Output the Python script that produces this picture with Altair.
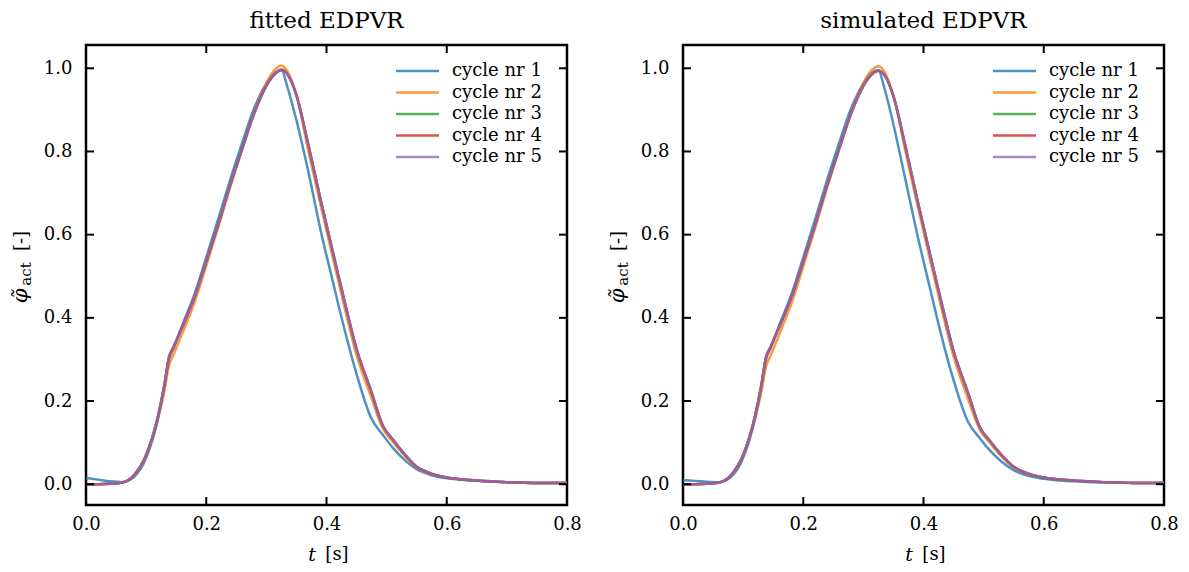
import altair as alt
import pandas as pd

# ---------------- data ----------------
cycles = ["cycle nr 1", "cycle nr 2", "cycle nr 3", "cycle nr 4", "cycle nr 5"]
colors = ["#1f77b4", "#ff7f0e", "#2ca02c", "#d62728", "#9467bd"]
panel_titles = ["fitted EDPVR", "simulated EDPVR"]

t_grid = [0.00, 0.02, 0.04, 0.06, 0.08, 0.10, 0.12, 0.13, 0.138, 0.146, 0.16, 0.18, 0.20, 0.22,
          0.24, 0.26, 0.28, 0.30, 0.315, 0.325, 0.335, 0.35, 0.37, 0.39, 0.41, 0.43,
          0.45, 0.474, 0.494, 0.51, 0.53, 0.55, 0.57, 0.60, 0.65, 0.70, 0.75, 0.80]

# fitted EDPVR
fit_c1 = [0.015, 0.011, 0.007, 0.005, 0.018, 0.063, 0.158, 0.228, 0.300, 0.328, 0.382, 0.455, 0.545, 0.638,
          0.733, 0.822, 0.905, 0.963, 0.990, 0.995, 0.955, 0.875, 0.750, 0.612, 0.490, 0.372,
          0.265, 0.160, 0.118, 0.088, 0.058, 0.036, 0.024, 0.014, 0.008, 0.004, 0.003, 0.003]
fit_c2 = [0.000, 0.000, 0.001, 0.004, 0.021, 0.068, 0.160, 0.222, 0.285, 0.313, 0.362, 0.435, 0.525, 0.618,
          0.715, 0.806, 0.895, 0.965, 0.998, 1.007, 0.993, 0.935, 0.800, 0.672, 0.548, 0.425,
          0.310, 0.210, 0.133, 0.102, 0.068, 0.040, 0.027, 0.016, 0.009, 0.005, 0.003, 0.003]
fit_c3 = [0.000, 0.000, 0.001, 0.004, 0.022, 0.070, 0.165, 0.236, 0.305, 0.331, 0.378, 0.448, 0.535, 0.625,
          0.720, 0.808, 0.893, 0.958, 0.988, 0.997, 0.986, 0.936, 0.815, 0.685, 0.562, 0.440,
          0.325, 0.225, 0.140, 0.108, 0.072, 0.042, 0.028, 0.016, 0.009, 0.005, 0.003, 0.003]
fit_c4 = [0.000, 0.000, 0.001, 0.004, 0.022, 0.070, 0.165, 0.236, 0.305, 0.331, 0.378, 0.448, 0.535, 0.625,
          0.720, 0.808, 0.893, 0.958, 0.987, 0.996, 0.985, 0.935, 0.815, 0.685, 0.562, 0.440,
          0.325, 0.225, 0.140, 0.108, 0.072, 0.042, 0.028, 0.016, 0.009, 0.005, 0.003, 0.003]
fit_c5 = [0.000, 0.000, 0.001, 0.004, 0.022, 0.070, 0.165, 0.236, 0.305, 0.331, 0.378, 0.448, 0.535, 0.625,
          0.720, 0.808, 0.893, 0.958, 0.987, 0.995, 0.985, 0.935, 0.815, 0.685, 0.562, 0.440,
          0.325, 0.225, 0.140, 0.108, 0.072, 0.042, 0.028, 0.016, 0.009, 0.005, 0.003, 0.003]

# simulated EDPVR
sim_c1 = [0.010, 0.008, 0.006, 0.005, 0.018, 0.063, 0.158, 0.228, 0.300, 0.328, 0.382, 0.455, 0.545, 0.638,
          0.733, 0.822, 0.905, 0.963, 0.990, 0.995, 0.952, 0.865, 0.732, 0.598, 0.476, 0.356,
          0.250, 0.150, 0.110, 0.082, 0.054, 0.034, 0.022, 0.013, 0.007, 0.004, 0.003, 0.003]
sim_c2 = [0.000, 0.000, 0.001, 0.004, 0.021, 0.068, 0.160, 0.220, 0.282, 0.310, 0.360, 0.433, 0.523, 0.617,
          0.714, 0.806, 0.895, 0.965, 0.997, 1.005, 0.992, 0.933, 0.800, 0.670, 0.545, 0.422,
          0.307, 0.205, 0.130, 0.100, 0.066, 0.040, 0.027, 0.016, 0.009, 0.005, 0.003, 0.003]
sim_c3 = [0.000, 0.000, 0.001, 0.004, 0.022, 0.070, 0.165, 0.236, 0.305, 0.331, 0.378, 0.448, 0.535, 0.625,
          0.720, 0.808, 0.893, 0.958, 0.987, 0.994, 0.984, 0.933, 0.812, 0.682, 0.558, 0.436,
          0.320, 0.220, 0.136, 0.105, 0.070, 0.042, 0.028, 0.016, 0.009, 0.005, 0.003, 0.003]
sim_c4 = [0.000, 0.000, 0.001, 0.004, 0.022, 0.070, 0.165, 0.236, 0.305, 0.331, 0.378, 0.448, 0.535, 0.625,
          0.720, 0.808, 0.893, 0.958, 0.987, 0.994, 0.984, 0.933, 0.812, 0.682, 0.558, 0.436,
          0.320, 0.220, 0.136, 0.105, 0.070, 0.042, 0.028, 0.016, 0.009, 0.005, 0.003, 0.003]
sim_c5 = [0.000, 0.000, 0.001, 0.004, 0.022, 0.070, 0.165, 0.236, 0.305, 0.331, 0.378, 0.448, 0.535, 0.625,
          0.720, 0.808, 0.893, 0.958, 0.987, 0.994, 0.984, 0.933, 0.812, 0.682, 0.558, 0.436,
          0.320, 0.220, 0.136, 0.105, 0.070, 0.042, 0.028, 0.016, 0.009, 0.005, 0.003, 0.003]

x_ticks = [0.0, 0.2, 0.4, 0.6, 0.8]
x_inner_ticks = [0.2, 0.4, 0.6]
y_ticks = [0.0, 0.2, 0.4, 0.6, 0.8, 1.0]

series = {
    "fitted EDPVR": [fit_c1, fit_c2, fit_c3, fit_c4, fit_c5],
    "simulated EDPVR": [sim_c1, sim_c2, sim_c3, sim_c4, sim_c5],
}

# ---------------- chart ----------------
W, H = 481, 460
FONT = "DejaVu Serif"
TICK_LEN = 8

x_scale = alt.Scale(domain=[0.0, 0.8], nice=False, zero=False)
y_scale = alt.Scale(domain=[-0.05, 1.056], nice=False, zero=False)
color_enc = alt.Color("cycle:N", scale=alt.Scale(domain=cycles, range=colors), legend=None)


def make_panel(title):
    rows = []
    for cyc, vals in zip(cycles, series[title]):
        for t, v in zip(t_grid, vals):
            rows.append({"t": t, "v": v, "cycle": cyc})
    src = pd.DataFrame(rows)

    lines = alt.Chart(src).mark_line(
        interpolate="monotone", strokeWidth=2.5, opacity=0.8, clip=True
    ).encode(
        x=alt.X("t:Q", scale=x_scale,
                axis=alt.Axis(values=x_ticks, format=".1f", title=None, labelFlush=False,
                              labelOverlap=False, labelPadding=10)),
        y=alt.Y("v:Q", scale=y_scale,
                axis=alt.Axis(values=y_ticks, format=".1f", title=None, labelPadding=14,
                              labelOverlap=False)),
        color=color_enc,
    )

    # legend (inside, upper right)
    leg = pd.DataFrame({"cycle": cycles})
    leg_y = alt.Y("cycle:N", scale=alt.Scale(type="point", domain=cycles, range=[26, 112], padding=0),
                  axis=None)
    leg_lines = alt.Chart(leg).mark_rule(strokeWidth=2.5, opacity=0.8).encode(
        y=leg_y, x=alt.value(310), x2=alt.value(353), color=color_enc)
    leg_text = alt.Chart(leg).mark_text(font=FONT, fontSize=18, align="left", baseline="middle",
                                        color="black").encode(
        y=leg_y, x=alt.value(366), text="cycle:N")

    # inward ticks on all four sides
    xt = pd.DataFrame({"tick": x_inner_ticks})
    yt = pd.DataFrame({"tick": y_ticks})
    bottom = alt.Chart(xt).mark_rule(color="black", strokeWidth=2).encode(
        x=alt.X("tick:Q", scale=x_scale), y=alt.value(H), y2=alt.value(H - TICK_LEN))
    top = alt.Chart(xt).mark_rule(color="black", strokeWidth=2).encode(
        x=alt.X("tick:Q", scale=x_scale), y=alt.value(0), y2=alt.value(TICK_LEN))
    left = alt.Chart(yt).mark_rule(color="black", strokeWidth=2).encode(
        y=alt.Y("tick:Q", scale=y_scale, axis=None), x=alt.value(0), x2=alt.value(TICK_LEN))
    right = alt.Chart(yt).mark_rule(color="black", strokeWidth=2).encode(
        y=alt.Y("tick:Q", scale=y_scale, axis=None), x=alt.value(W), x2=alt.value(W - TICK_LEN))

    # axis titles
    one = pd.DataFrame({"k": [0]})
    ylab_phi = alt.Chart(one).mark_text(font=FONT, fontSize=21, fontStyle="italic", angle=270,
                                        align="center", baseline="alphabetic", color="black").encode(
        x=alt.value(-59), y=alt.value(251), text=alt.value("φ̃"))
    ylab_act = alt.Chart(one).mark_text(font=FONT, fontSize=15, angle=270,
                                        align="center", baseline="alphabetic", color="black").encode(
        x=alt.value(-55), y=alt.value(229), text=alt.value("act"))
    ylab_unit = alt.Chart(one).mark_text(font=FONT, fontSize=18, angle=270,
                                         align="center", baseline="alphabetic", color="black").encode(
        x=alt.value(-59), y=alt.value(196), text=alt.value("[-]"))
    xlab_t = alt.Chart(one).mark_text(font=FONT, fontSize=19, fontStyle="italic",
                                      align="center", baseline="middle", color="black").encode(
        x=alt.value(226), y=alt.value(H + 50), text=alt.value("t"))
    xlab_s = alt.Chart(one).mark_text(font=FONT, fontSize=18,
                                      align="center", baseline="middle", color="black").encode(
        x=alt.value(251), y=alt.value(H + 50), text=alt.value("[s]"))

    return alt.layer(lines, bottom, top, left, right, leg_lines, leg_text,
                     ylab_phi, ylab_act, ylab_unit, xlab_t, xlab_s).resolve_scale(
        y="independent"
    ).properties(
        width=W, height=H,
        title=alt.TitleParams(title, font=FONT, fontSize=23, fontWeight="normal",
                              color="black", anchor="middle", offset=11),
    )


chart = alt.hconcat(make_panel(panel_titles[0]), make_panel(panel_titles[1]), spacing=22).properties(
    padding={"left": 0, "top": 0, "right": 0, "bottom": 0}
).configure_view(
    stroke="black", strokeWidth=2.5
).configure_axis(
    labelFont=FONT, labelFontSize=18, labelColor="black", ticks=False, domain=False, grid=False
)

chart.save("out.html", embed_options={"renderer": "svg", "actions": False})
